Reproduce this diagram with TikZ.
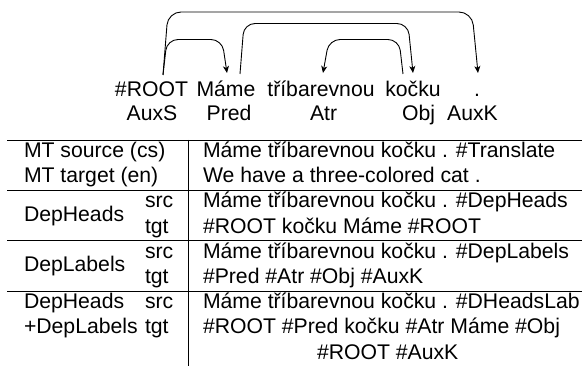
\documentclass[tikz,border=0pt]{standalone}
\usepackage{fontspec}
\setmainfont{Liberation Sans}
\usetikzlibrary{arrows.meta}
\tikzset{
  txt/.style={inner sep=0pt, outer sep=0pt, font=\fontsize{21.2}{25.2}\selectfont},
  wl/.style={txt, anchor=base west},
  wc/.style={txt, anchor=base},
  arc/.style={line width=0.9pt, rounded corners=11pt, -{Stealth[length=7pt,width=6pt,inset=2pt]}},
  rule/.style={line width=0.8pt}
}
\begin{document}
\begin{tikzpicture}[x=1pt,y=-1pt]
\useasboundingbox (0,0) rectangle (582,366);
% sentence
\node[wc] (w0) at (151.5,97) {\#ROOT};
\node[wc] (w1) at (226,97) {Máme};
\node[wc] (w2) at (321,97) {tříbarevnou};
\node[wc] (w3) at (413,97) {kočku};
\node[wc] (w4) at (477,97) {.};
\node[wc] (l0) at (152,121) {AuxS};
\node[wc] (l1) at (229,121) {Pred};
\node[wc] (l2) at (323.6,121) {Atr};
\node[wc] (l3) at (418.5,121) {Obj};
\node[wc] (l4) at (472.5,121) {AuxK};
% arc anchor points
\coordinate (s0) at (163,75);
\coordinate (t1) at (227,73);
\coordinate (s1) at (240,74);
\coordinate (t3) at (413,73);
\coordinate (s3) at (403,74);
\coordinate (t2) at (323,73);
\coordinate (t4) at (478,73);
\coordinate (hA) at (0,12);
\coordinate (hB) at (0,23.5);
\coordinate (hC) at (0,39.5);
\draw[arc, rounded corners=13pt] (s0) -- ([xshift=5pt]s0 |- hA) -- ([xshift=-6pt]t4 |- hA) -- (t4);
\draw[arc] (s0) -- ([xshift=4pt]s0 |- hC) -- ([xshift=-5pt]t1 |- hC) -- (t1);
\draw[arc] (s1) -- ([xshift=4pt]s1 |- hB) -- ([xshift=-5pt]t3 |- hB) -- (t3);
\draw[arc] (s3) -- ([xshift=-4pt]s3 |- hC) -- ([xshift=6pt]t2 |- hC) -- (t2);
% table rules
\coordinate (r0l) at (7,140);     \coordinate (r0r) at (582,140);
\coordinate (r1l) at (7,190.4);   \coordinate (r1r) at (582,190.4);
\coordinate (r2l) at (7,240.8);   \coordinate (r2r) at (582,240.8);
\coordinate (r3l) at (7,291.2);   \coordinate (r3r) at (582,291.2);
\coordinate (vt) at (188,140);
\coordinate (vb) at (188,366);
\draw[rule] (r0l) -- (r0r);
\draw[rule] (r1l) -- (r1r);
\draw[rule] (r2l) -- (r2r);
\draw[rule] (r3l) -- (r3r);
\draw[rule] (vt) -- (vb);
% row 1
\node[wl] (a1) at (24,157.6) {MT source (cs)};
\node[wl] (a2) at (24,182.8) {MT target (en)};
\node[wl] (b1) at (203,157.6) {Máme tříbarevnou kočku . \#Translate};
\node[wl] (b2) at (203,182.8) {We have a three-colored cat .};
% row 2
\node[wl] (c0) at (24,221.5) {DepHeads};
\node[wl] (c1) at (145,208) {src};
\node[wl] (c2) at (145,233.2) {tgt};
\node[wl] (d1) at (203,208) {Máme tříbarevnou kočku . \#DepHeads};
\node[wl] (d2) at (203,233.2) {\#ROOT kočku Máme \#ROOT};
% row 3
\node[wl] (e0) at (24,271.9) {DepLabels};
\node[wl] (e1) at (145,258.4) {src};
\node[wl] (e2) at (145,283.6) {tgt};
\node[wl] (f1) at (203,258.4) {Máme tříbarevnou kočku . \#DepLabels};
\node[wl] (f2) at (203,283.6) {\#Pred \#Atr \#Obj \#AuxK};
% row 4
\node[wl] (g0) at (24,308.8) {DepHeads};
\node[wl] (g1) at (145,308.8) {src};
\node[wl] (g2) at (24,334) {+DepLabels};
\node[wl] (g3) at (145,334) {tgt};
\node[wl] (h1) at (203,308.8) {Máme tříbarevnou kočku . \#DHeadsLab};
\node[wl] (h2) at (203,334) {\#ROOT \#Pred kočku \#Atr Máme \#Obj};
\node[wl] (h3) at (317,359.2) {\#ROOT \#AuxK};
\end{tikzpicture}
\end{document}
